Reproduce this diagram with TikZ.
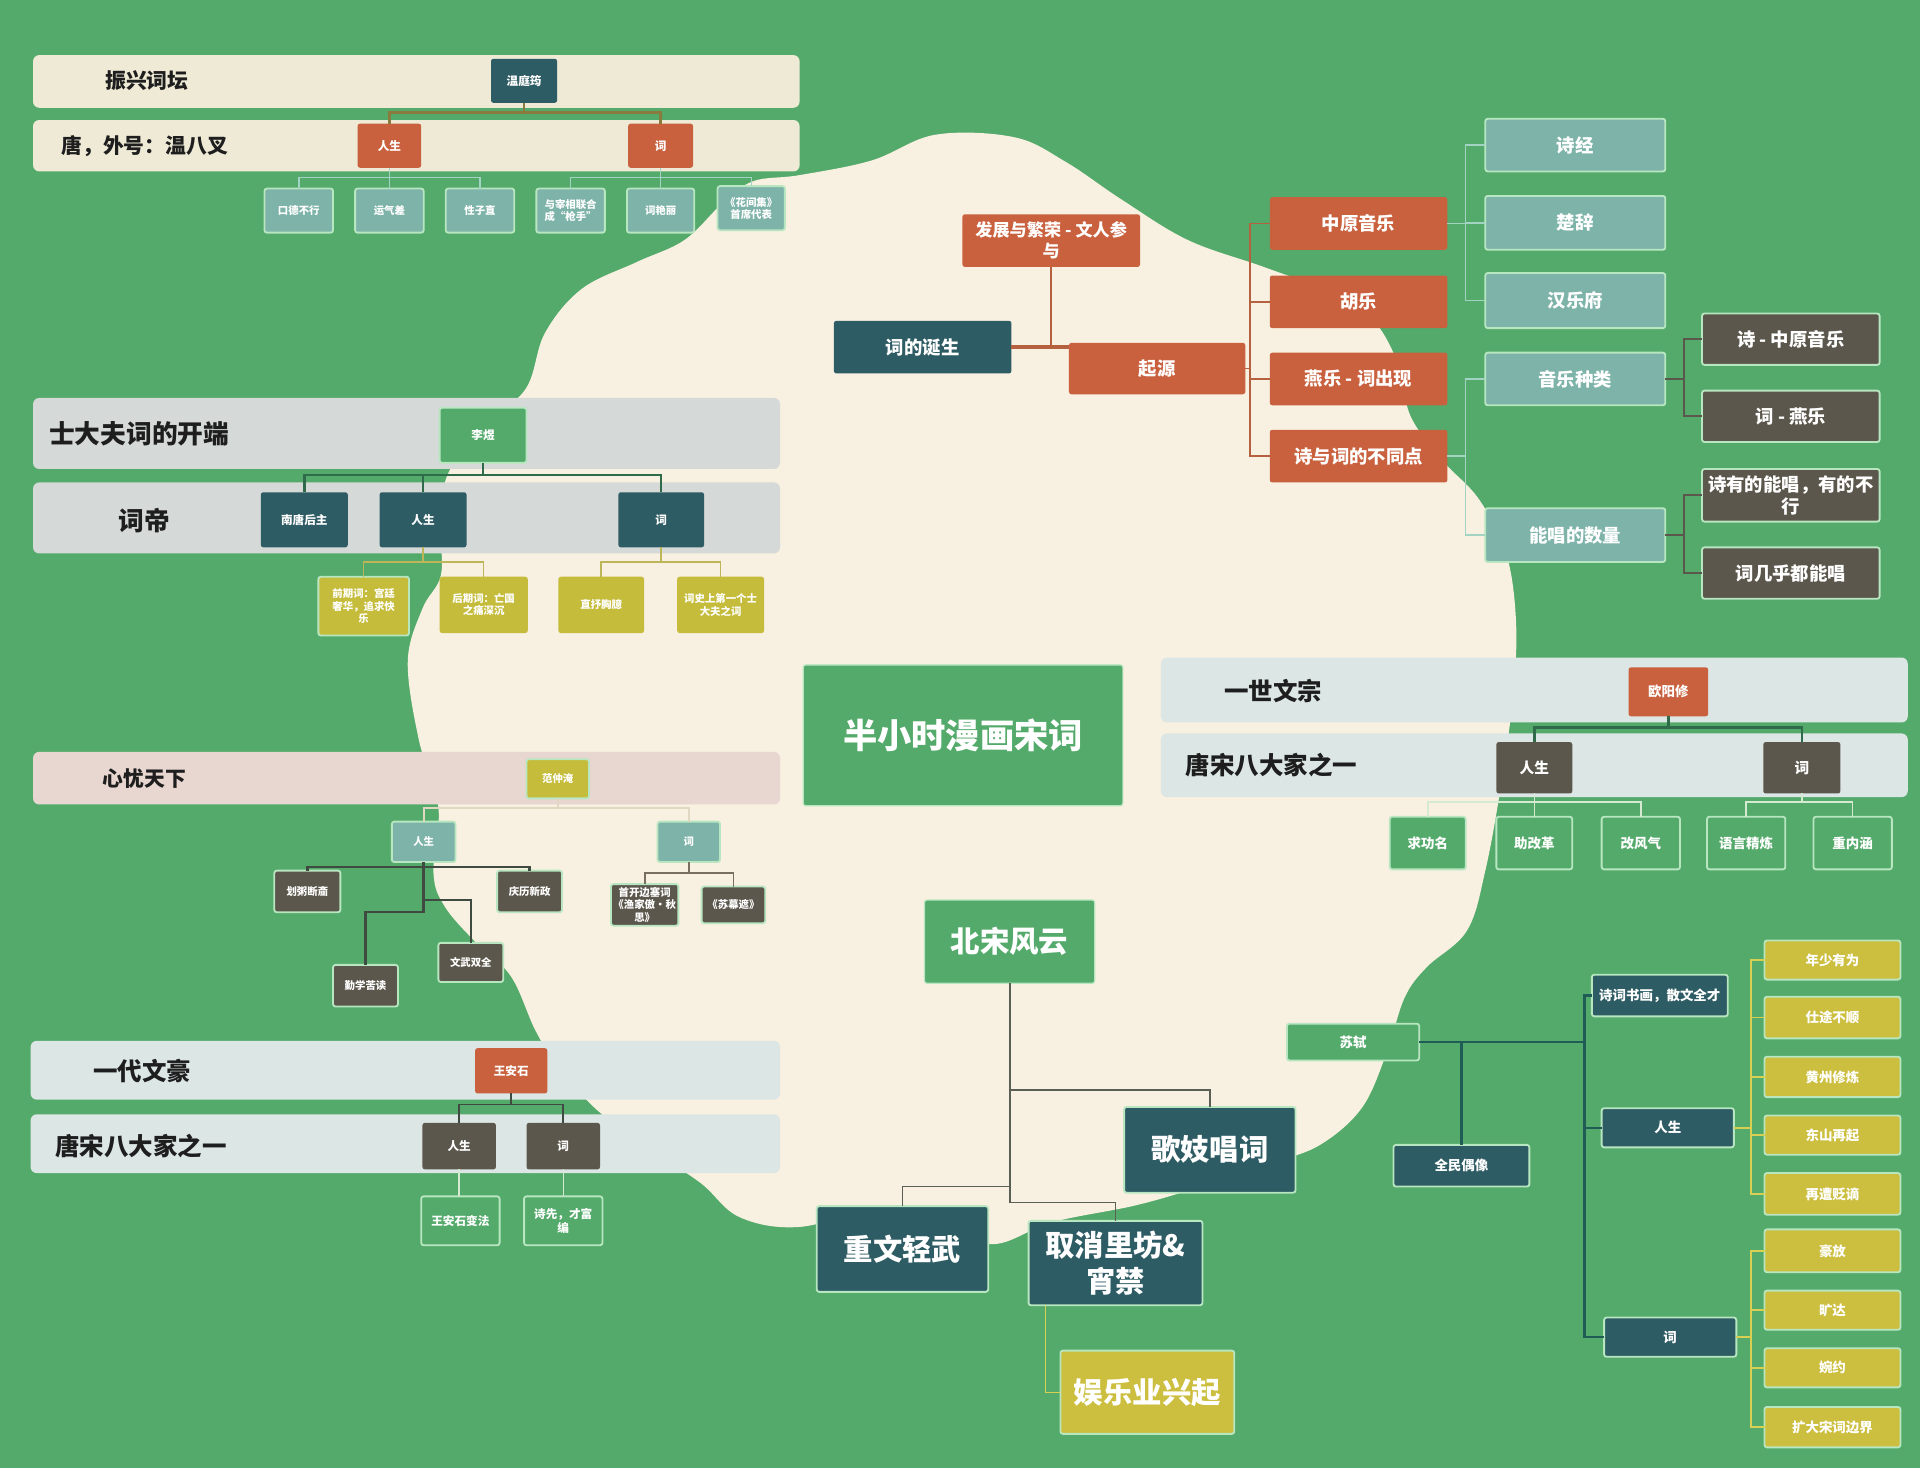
\documentclass[tikz,border=0pt]{standalone}
\usepackage{fontspec}
\newfontfamily\cjk{Noto Sans CJK SC}
\usetikzlibrary{calc}
\definecolor{bg}{HTML}{54AA6B}
\definecolor{cream}{HTML}{F8F0E1}
\definecolor{org}{HTML}{C9603E}
\definecolor{dteal}{HTML}{2E5C64}
\definecolor{lteal}{HTML}{7DB3A8}
\definecolor{dgray}{HTML}{5B574C}
\definecolor{ylw}{HTML}{C5BC3C}
\definecolor{ylw2}{HTML}{CCBE3F}
\definecolor{grn}{HTML}{54AA6B}
\definecolor{lgb}{HTML}{B8E6C0}
\definecolor{bnbeige}{HTML}{EEEAD6}
\definecolor{bngray}{HTML}{D5D9D8}
\definecolor{bnpink}{HTML}{E8D6D1}
\definecolor{bnblue}{HTML}{DCE6E5}
\definecolor{txt}{HTML}{1E1E1E}
\definecolor{lnolive}{HTML}{8A7B3C}
\definecolor{lnlteal}{HTML}{A3D3C3}
\definecolor{lndgrn}{HTML}{2F6B4A}
\definecolor{lnyel}{HTML}{BDB55A}
\definecolor{lnpale}{HTML}{E2D8C2}
\definecolor{lndark}{HTML}{3F4A40}
\definecolor{lnbrown}{HTML}{7A6E60}
\definecolor{lnlight}{HTML}{D6EAD2}
\definecolor{lnorg}{HTML}{B5603F}
\definecolor{lncen}{HTML}{5A5F55}
\definecolor{lnsu}{HTML}{1E5C55}
\definecolor{lnsuy}{HTML}{D8CF55}
\tikzset{
  box/.style={inner sep=1pt, outer sep=0pt, align=center, text=white, rounded corners=2pt},
  bord/.style={draw=lgb, line width=1.5pt},
  banner/.style={inner sep=0pt, outer sep=0pt, rounded corners=5pt},
  blabel/.style={inner sep=0pt, text=txt},
  f8/.style={font={\cjk\bfseries\fontsize{8.5}{10}\selectfont}},
  f9/.style={font={\cjk\bfseries\fontsize{9.5}{11}\selectfont}},
  f11/.style={font={\cjk\bfseries\fontsize{11}{13}\selectfont}},
  f12/.style={font={\cjk\bfseries\fontsize{12}{14}\selectfont}},
  f14/.style={font={\cjk\bfseries\fontsize{14}{17}\selectfont}},
  f15/.style={font={\cjk\bfseries\fontsize{15}{18}\selectfont}},
  f17/.style={font={\cjk\bfseries\fontsize{17}{20}\selectfont}},
  f20/.style={font={\cjk\bfseries\fontsize{20}{24}\selectfont}},
  f21/.style={font={\cjk\bfseries\fontsize{21}{25}\selectfont}},
  f24/.style={font={\cjk\bfseries\fontsize{24}{30}\selectfont}},
  f28/.style={font={\cjk\bfseries\fontsize{28}{32}\selectfont}},
}
\newcommand\bx[7]{\node[#6, minimum width={#4-#2}, minimum height={#5-#3}] (#1) at ({(#2+#4)/2},{(#3+#5)/2}) {#7};}
\begin{document}
\begin{tikzpicture}[x=1pt,y=-1pt]
\useasboundingbox (0,0) rectangle (1568,1199);
\fill[bg] (0,0) rectangle (1568,1199);
% cream blob
\fill[cream] plot[smooth cycle, tension=0.6] coordinates {
(429,318) (445,272) (475,236) (520,214) (559,196) (590,166) (615,148) (653,143)
(712,131) (764,110) (828,112) (870,132) (916,163) (970,196) (1032,218) (1090,240)
(1122,262) (1142,298) (1152,340) (1178,376) (1208,408) (1230,452) (1238,506)
(1236,565) (1226,640) (1213,711) (1198,760) (1165,790) (1147,815) (1132,861)
(1112,905) (1078,935) (1038,950) (987,967) (929,984) (860,998) (812,1016)
(770,1003) (724,986) (653,1002) (604,994) (572,966) (530,938) (487,906)
(455,870) (437,841) (417,797) (387,768) (363,740) (354,713) (358,659)
(342,604) (333,540) (345,497) (360,470) (360,430) (365,389) (392,350)};
% ---------- banners
\node[banner, fill=bnbeige, minimum width=626, minimum height=43] (bn1) at (340,66.5) {};
\node[banner, fill=bnbeige, minimum width=626, minimum height=42] (bn2) at (340,119) {};
\node[banner, fill=bngray, minimum width=610, minimum height=58] (bn3) at (332,354) {};
\node[banner, fill=bngray, minimum width=610, minimum height=58] (bn4) at (332,423) {};
\node[banner, fill=bnpink, minimum width=610, minimum height=43] (bn5) at (332,635.5) {};
\node[banner, fill=bnblue, minimum width=612, minimum height=48] (bn6) at (331,874) {};
\node[banner, fill=bnblue, minimum width=612, minimum height=48] (bn7) at (331,934) {};
\node[banner, fill=bnblue, minimum width=610, minimum height=53] (bn8) at (1253,563.5) {};
\node[banner, fill=bnblue, minimum width=610, minimum height=52] (bn9) at (1253,625) {};
\node[blabel, f17] (t1) at (120,66) {振兴词坛};
\node[blabel, f17, anchor=west] (t2) at (50,119) {唐，外号：温八叉};
\node[blabel, f21, anchor=west] (t3) at (40,354) {士大夫词的开端};
\node[blabel, f21] (t4) at (118,425) {词帝};
\node[blabel, f17] (t5) at (118,636) {心忧天下};
\node[blabel, f20] (t6) at (116,875) {一代文豪};
\node[blabel, f20, anchor=west] (t7) at (45,936) {唐宋八大家之一};
\node[blabel, f20] (t8) at (1040,564) {一世文宗};
\node[blabel, f20, anchor=west] (t9) at (968,625) {唐宋八大家之一};
% ---------- 温庭筠
\bx{wen}{401}{48}{455}{84}{box,fill=dteal,f9}{温庭筠}
\bx{wrs}{292}{101}{344}{137}{box,fill=org,f9}{人生}
\bx{wci}{513}{101}{566}{137}{box,fill=org,f9}{词}
\bx{w1}{216}{154}{272}{190}{box,fill=lteal,bord,f8}{口德不行}
\bx{w2}{290}{154}{346}{190}{box,fill=lteal,bord,f8}{运气差}
\bx{w3}{364}{154}{420}{190}{box,fill=lteal,bord,f8}{性子直}
\bx{w4}{438}{154}{494}{190}{box,fill=lteal,bord,f8}{与宰相联合\\成“枪手”}
\bx{w5}{512}{154}{567}{190}{box,fill=lteal,bord,f8}{词艳丽}
\bx{w6}{586}{152}{641}{188}{box,fill=lteal,bord,f8}{《花间集》\\首席代表}
% ---------- 李煜
\bx{li}{359}{333}{430}{378}{box,fill=grn,bord,f9}{李煜}
\bx{lnt}{213}{402}{284}{447}{box,fill=dteal,f9}{南唐后主}
\bx{lrs}{310}{402}{381}{447}{box,fill=dteal,f9}{人生}
\bx{lci}{505}{402}{575}{447}{box,fill=dteal,f9}{词}
\bx{l1}{260}{471}{334}{519}{box,fill=ylw,bord,f8}{前期词：宫廷\\奢华，追求快\\乐}
\bx{l2}{359}{471}{431}{517}{box,fill=ylw,f8}{后期词：亡国\\之痛深沉}
\bx{l3}{456}{471}{526}{517}{box,fill=ylw,f8}{直抒胸臆}
\bx{l4}{553}{471}{624}{517}{box,fill=ylw,f8}{词史上第一个士\\大夫之词}
% ---------- 范仲淹
\bx{fan}{430}{620}{481}{652}{box,fill=ylw,bord,f8}{范仲淹}
\bx{frs}{320}{671}{372}{704}{box,fill=lteal,bord,f8}{人生}
\bx{fci}{537}{671}{588}{704}{box,fill=lteal,bord,f8}{词}
\bx{f1}{224}{711}{278}{745}{box,fill=dgray,bord,f8}{划粥断齑}
\bx{f2}{406}{711}{459}{745}{box,fill=dgray,bord,f8}{庆历新政}
\bx{f3}{358}{770}{411}{802}{box,fill=dgray,bord,f8}{文武双全}
\bx{f4}{272}{788}{325}{822}{box,fill=dgray,bord,f8}{勤学苦读}
\bx{f5}{499}{722}{554}{756}{box,fill=dgray,bord,f8}{首开边塞词\\《渔家傲·秋\\思》}
\bx{f6}{573}{724}{625}{754}{box,fill=dgray,bord,f8}{《苏幕遮》}
% ---------- 王安石
\bx{wang}{388}{856}{447}{893}{box,fill=org,f9}{王安石}
\bx{wrs2}{345}{917}{405}{955}{box,fill=dgray,f9}{人生}
\bx{wci2}{430}{917}{490}{955}{box,fill=dgray,f9}{词}
\bx{wa1}{344}{977}{408}{1017}{box,fill=grn,bord,f9}{王安石变法}
\bx{wa2}{428}{977}{492}{1017}{box,fill=grn,bord,f9}{诗先，才富\\编}
% ---------- 欧阳修
\bx{ou}{1330}{545}{1395}{585}{box,fill=org,f11}{欧阳修}
\bx{ors}{1222}{606}{1284}{648}{box,fill=dgray,f12}{人生}
\bx{oci}{1440}{606}{1503}{648}{box,fill=dgray,f12}{词}
\bx{o1}{1135}{667}{1197}{710}{box,fill=grn,bord,f11}{求功名}
\bx{o2}{1222}{667}{1284}{710}{box,fill=grn,bord,f11}{助改革}
\bx{o3}{1308}{667}{1372}{710}{box,fill=grn,bord,f11}{改风气}
\bx{o4}{1394}{667}{1458}{710}{box,fill=grn,bord,f11}{语言精炼}
\bx{o5}{1481}{667}{1545}{710}{box,fill=grn,bord,f11}{重内涵}
% ---------- 词的诞生
\bx{dev}{786}{175}{931}{218}{box,fill=org,f14}{发展与繁荣 - 文人参\\与}
\bx{birth}{681}{262}{826}{305}{box,fill=dteal,f15}{词的诞生}
\bx{orig}{873}{280}{1017}{322}{box,fill=org,f15}{起源}
\bx{zy}{1037}{161}{1182}{204}{box,fill=org,f15}{中原音乐}
\bx{hy}{1037}{225}{1182}{268}{box,fill=org,f15}{胡乐}
\bx{yy}{1037}{288}{1182}{331}{box,fill=org,f15}{燕乐 - 词出现}
\bx{bt}{1037}{351}{1182}{394}{box,fill=org,f15}{诗与词的不同点}
\bx{sj}{1213}{97}{1360}{140}{box,fill=lteal,bord,f15}{诗经}
\bx{cc}{1213}{160}{1360}{204}{box,fill=lteal,bord,f15}{楚辞}
\bx{hyf}{1213}{223}{1360}{268}{box,fill=lteal,bord,f15}{汉乐府}
\bx{yyzl}{1213}{288}{1360}{331}{box,fill=lteal,bord,f15}{音乐种类}
\bx{nc}{1213}{415}{1360}{459}{box,fill=lteal,bord,f15}{能唱的数量}
\bx{s1}{1390}{256}{1535}{298}{box,fill=dgray,bord,f15}{诗 - 中原音乐}
\bx{s2}{1390}{319}{1535}{361}{box,fill=dgray,bord,f15}{词 - 燕乐}
\bx{s3}{1390}{383}{1535}{426}{box,fill=dgray,bord,f15}{诗有的能唱，有的不\\行}
\bx{s4}{1390}{447}{1535}{489}{box,fill=dgray,bord,f15}{词几乎都能唱}
% ---------- center
\bx{title}{656}{543}{917}{658}{box,fill=grn,draw=lgb,line width=1pt,f28}{半小时漫画宋词}
\bx{bs}{755}{735}{894}{803}{box,fill=grn,draw=lgb,line width=1pt,f24}{北宋风云}
\bx{gj}{918}{904}{1058}{974}{box,fill=dteal,bord,f24}{歌妓唱词}
\bx{zw}{667}{985}{807}{1055}{box,fill=dteal,bord,f24}{重文轻武}
\bx{qx}{840}{997}{982}{1066}{box,fill=dteal,bord,f24}{取消里坊\&\\宵禁}
\bx{yl}{866}{1103}{1008}{1171}{box,fill=ylw2,bord,f24}{娱乐业兴起}
% ---------- 苏轼
\bx{su}{1051}{836}{1159}{866}{box,fill=grn,bord,f11}{苏轼}
\bx{sq}{1300}{796}{1411}{830}{box,fill=dteal,bord,f11}{诗词书画，散文全才}
\bx{qm}{1138}{935}{1249}{969}{box,fill=dteal,bord,f11}{全民偶像}
\bx{srs}{1308}{905}{1416}{937}{box,fill=dteal,bord,f11}{人生}
\bx{sci}{1310}{1076}{1418}{1108}{box,fill=dteal,bord,f11}{词}
\bx{y1}{1441}{768}{1552}{800}{box,fill=ylw2,bord,f11}{年少有为}
\bx{y2}{1441}{814}{1552}{848}{box,fill=ylw2,bord,f11}{仕途不顺}
\bx{y3}{1441}{863}{1552}{896}{box,fill=ylw2,bord,f11}{黄州修炼}
\bx{y4}{1441}{911}{1552}{943}{box,fill=ylw2,bord,f11}{东山再起}
\bx{y5}{1441}{958}{1552}{992}{box,fill=ylw2,bord,f11}{再遭贬谪}
\bx{y6}{1441}{1004}{1552}{1039}{box,fill=ylw2,bord,f11}{豪放}
\bx{y7}{1441}{1054}{1552}{1086}{box,fill=ylw2,bord,f11}{旷达}
\bx{y8}{1441}{1101}{1552}{1133}{box,fill=ylw2,bord,f11}{婉约}
\bx{y9}{1441}{1149}{1552}{1182}{box,fill=ylw2,bord,f11}{扩大宋词边界}
% ---------- connectors
\begin{scope}[draw=lnolive, line width=2pt]
\draw (wen.south) -- ++(0,8) -| (wrs.north);
\draw (wen.south) -- ++(0,8) -| (wci.north);
\end{scope}
\begin{scope}[draw=lnlteal, line width=1.2pt]
\foreach \c in {w1,w2,w3} \draw (wrs.south) -- ++(0,8) -| (\c.north);
\foreach \c in {w4,w5,w6} \draw (wci.south) -- ++(0,8) -| (\c.north);
\end{scope}
\begin{scope}[draw=lndgrn, line width=2pt]
\foreach \c in {lnt,lrs,lci} \draw (li.south) -- ++(0,10) -| (\c.north);
\end{scope}
\begin{scope}[draw=lnyel, line width=1.2pt]
\foreach \c in {l1,l2} \draw (lrs.south) -- ++(0,12) -| (\c.north);
\foreach \c in {l3,l4} \draw (lci.south) -- ++(0,12) -| (\c.north);
\end{scope}
\begin{scope}[draw=lnpale, line width=1.5pt]
\foreach \c in {frs,fci} \draw (fan.south) -- ++(0,8) -| (\c.north);
\end{scope}
\begin{scope}[draw=lndark, line width=2pt]
\foreach \c in {f1,f2} \draw (frs.south) -- ++(0,4) -| (\c.north);
\draw (frs.south) -- ++(0,41) -| (f4.north);
\draw (frs.south) -- ++(0,31) -| (f3.north);
\end{scope}
\begin{scope}[draw=lnbrown, line width=1.5pt]
\foreach \c in {f5,f6} \draw (fci.south) -- ++(0,9) -| (\c.north);
\end{scope}
\begin{scope}[draw=lndark, line width=1.5pt]
\foreach \c in {wrs2,wci2} \draw (wang.south) -- ++(0,9) -| (\c.north);
\end{scope}
\begin{scope}[draw=lnlight, line width=1.2pt]
\draw (wrs2.south) -- (wa1.north -| wrs2.south);
\draw (wci2.south) -- (wa2.north -| wci2.south);
\end{scope}
\begin{scope}[draw=lndgrn, line width=2pt]
\foreach \c in {ors,oci} \draw (ou.south) -- ++(0,9) -| (\c.north);
\end{scope}
\begin{scope}[draw=lnlight, line width=1.2pt]
\foreach \c in {o1,o2,o3} \draw (ors.south) -- ++(0,7) -| (\c.north);
\foreach \c in {o4,o5} \draw (oci.south) -- ++(0,7) -| (\c.north);
\end{scope}
\begin{scope}[draw=lnorg, line width=1.5pt]
\draw[line width=3pt] (birth.east) -- (birth.east -| orig.west);
\draw[line width=2pt] (dev.south) -- (dev.south |- birth.east);
\foreach \c in {zy,hy,yy,bt} \draw (orig.east) -- ++(4,0) |- (\c.west);
\end{scope}
\begin{scope}[draw=lnlteal, line width=1.2pt]
\foreach \c in {sj,cc,hyf} \draw (zy.east) -- ++(15,0) |- (\c.west);
\foreach \c in {yyzl,nc} \draw (bt.east) -- ++(15,0) |- (\c.west);
\end{scope}
\begin{scope}[draw=dgray, line width=1.5pt]
\foreach \c in {s1,s2} \draw (yyzl.east) -- ++(15,0) |- (\c.west);
\foreach \c in {s3,s4} \draw (nc.east) -- ++(15,0) |- (\c.west);
\end{scope}
\begin{scope}[draw=lncen, line width=1.5pt]
\draw (bs.south) -- ++(0,87) -| (gj.north);
\draw (bs.south) -- ++(0,166) -| (zw.north);
\draw (bs.south) -- ++(0,179) -| (qx.north);
\end{scope}
\draw[lnsuy, line width=1.2pt] ([xshift=14pt]qx.south west) |- (yl.west);
\coordinate (sj1) at (1294,851);
\begin{scope}[draw=lnsu, line width=2pt]
\draw (su.east) -- (sj1);
\draw (su.east -| qm.north) -- (qm.north);
\foreach \c in {sq,srs,sci} \draw (sj1) |- (\c.west);
\end{scope}
\begin{scope}[draw=lnsuy, line width=1.2pt]
\foreach \c in {y1,y2,y3,y4,y5} \draw (srs.east) -- ++(14,0) |- (\c.west);
\foreach \c in {y6,y7,y8,y9} \draw (sci.east) -- ++(12,0) |- (\c.west);
\end{scope}
\end{tikzpicture}
\end{document}
